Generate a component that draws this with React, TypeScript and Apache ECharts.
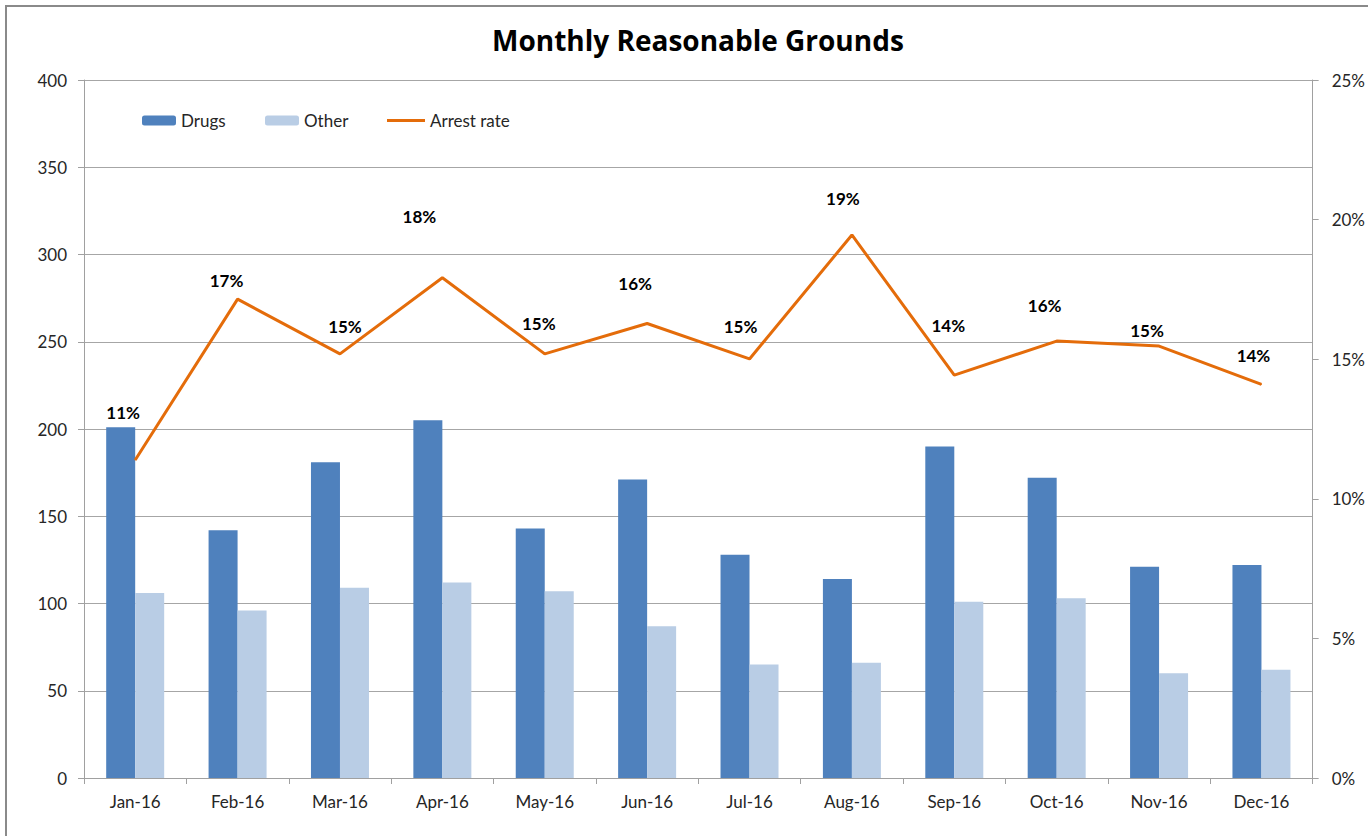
import React, { useEffect, useRef } from "react";
import * as echarts from "echarts";

const months = ["Jan-16", "Feb-16", "Mar-16", "Apr-16", "May-16", "Jun-16", "Jul-16", "Aug-16", "Sep-16", "Oct-16", "Nov-16", "Dec-16"];
const drugs = [201, 142, 181, 205, 143, 171, 128, 114, 190, 172, 121, 122];
const other = [106, 96, 109, 112, 107, 87, 65, 66, 101, 103, 60, 62];
const arrestRate = [0.1139, 0.1715, 0.1519, 0.1792, 0.1519, 0.1628, 0.1501, 0.1945, 0.1443, 0.1565, 0.1547, 0.141];
const leftTicks = { min: 0, max: 400, interval: 50 };
const rightTicks = { min: 0, max: 0.25, interval: 0.05 };

// manual label placements (as in the source chart), relative to each point
const rateLabelOffsets: [number, number][] = [
  [-12, -47], [-11, -19], [5, -27], [-23, -61], [-6, -30], [-12, -40],
  [-9, -32], [-9, -36], [-6, -50], [-12, -36], [-12, -16], [-8, -29],
];

const FONT = "Lato, 'Open Sans', sans-serif";
const TXT = "#262626";
const ORANGE = "#e46c0a";

export default function App() {
  const ref = useRef<HTMLDivElement>(null);
  useEffect(() => {
    document.body.style.margin = "0";
    if (!ref.current) return;
    const chart = echarts.init(ref.current, null, { renderer: "svg" });
    const legendText = { fontFamily: FONT, fontSize: 17, color: TXT };
    chart.setOption({
      animation: false,
      backgroundColor: "#ffffff",
      title: {
        text: "Monthly Reasonable Grounds",
        left: 487,
        top: 21,
        textStyle: { fontFamily: "'Open Sans', Lato, sans-serif", fontSize: 28, fontWeight: "bold", color: "#000" },
      },
      graphic: [
        {
          type: "rect",
          shape: { x: 6, y: 6, width: 1420, height: 900 },
          style: { fill: "none", stroke: "#8a8a8a", lineWidth: 2 },
          silent: true,
        },
      ],
      legend: [
        { data: ["Drugs"], left: 137, top: 107, itemWidth: 34, itemHeight: 10, itemGap: 5, textStyle: legendText },
        { data: ["Other"], left: 260, top: 107, itemWidth: 34, itemHeight: 10, itemGap: 5, textStyle: legendText },
        {
          data: [{ name: "Arrest rate", icon: "rect" }],
          left: 382,
          top: 107,
          itemWidth: 38,
          itemHeight: 3,
          itemGap: 5,
          textStyle: legendText,
        },
      ],
      grid: { left: 84, right: 52, top: 80, bottom: 58, containLabel: false },
      xAxis: {
        type: "category",
        data: months,
        axisLine: { lineStyle: { color: "#a0a0a0", width: 1 } },
        axisTick: { show: true, length: 6, lineStyle: { color: "#a0a0a0" } },
        axisLabel: { fontFamily: FONT, fontSize: 17, color: TXT, margin: 15 },
      },
      yAxis: [
        {
          type: "value",
          min: leftTicks.min,
          max: leftTicks.max,
          interval: leftTicks.interval,
          axisLine: { show: true, lineStyle: { color: "#a0a0a0" } },
          axisTick: { show: true, length: 6, lineStyle: { color: "#a0a0a0" } },
          axisLabel: { fontFamily: FONT, fontSize: 17, color: TXT, margin: 17 },
          splitLine: { lineStyle: { color: "#a6a6a6", width: 1 } },
        },
        {
          type: "value",
          position: "right",
          min: rightTicks.min,
          max: rightTicks.max,
          interval: rightTicks.interval,
          axisLine: { show: true, lineStyle: { color: "#a0a0a0" } },
          axisTick: { show: true, length: 6, lineStyle: { color: "#a0a0a0" } },
          axisLabel: {
            fontFamily: FONT,
            fontSize: 17,
            color: TXT,
            margin: 19,
            formatter: (v: number) => Math.round(v * 100) + "%",
          },
          splitLine: { show: false },
        },
      ],
      series: [
        {
          name: "Drugs",
          type: "bar",
          data: drugs,
          barWidth: 29,
          barGap: "0%",
          itemStyle: { color: "#4f81bd" },
        },
        {
          name: "Other",
          type: "bar",
          data: other,
          barWidth: 29,
          barGap: "0%",
          itemStyle: { color: "#b9cde5" },
        },
        {
          name: "Arrest rate",
          type: "line",
          yAxisIndex: 1,
          data: arrestRate.map((v, i) => ({
            value: v,
            label: { offset: rateLabelOffsets[i] },
          })),
          symbol: "circle",
          symbolSize: 1,
          showSymbol: true,
          lineStyle: { color: ORANGE, width: 3 },
          itemStyle: { color: ORANGE },
          label: {
            show: true,
            position: "inside",
            fontFamily: FONT,
            fontSize: 17,
            fontWeight: "bold",
            color: "#000",
            formatter: (p: any) => Math.round(p.value * 100) + "%",
          },
        },
      ],
    });
    return () => chart.dispose();
  }, []);
  return <div ref={ref} style={{ width: 1368, height: 836 }} />;
}
